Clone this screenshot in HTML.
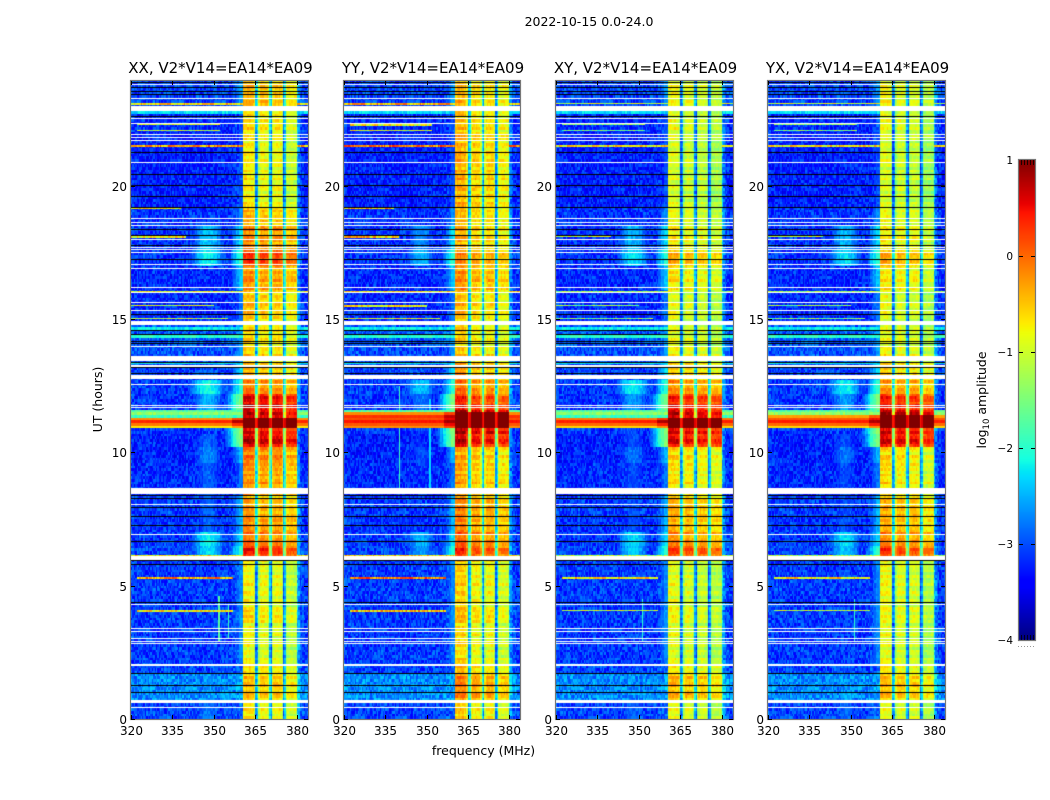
<!DOCTYPE html>
<html lang="en">
<head>
<meta charset="utf-8">
<title>2022-10-15 spectrogram</title>
<style>
html,body{margin:0;padding:0;background:#fff;}
#stage{position:relative;width:1050px;height:800px;overflow:hidden;background:#fff;font-family:"DejaVu Sans",sans-serif;}
canvas{position:absolute;display:block;}
svg{position:absolute;left:0;top:0;}
text{font-family:"DejaVu Sans",sans-serif;fill:#000;}
</style>
</head>
<body>
<div id="stage">
  <canvas id="heat-0" width="177" height="638" style="left:131px;top:81px"></canvas>
  <canvas id="heat-1" width="176" height="638" style="left:344px;top:81px"></canvas>
  <canvas id="heat-2" width="177" height="638" style="left:556px;top:81px"></canvas>
  <canvas id="heat-3" width="177" height="638" style="left:768px;top:81px"></canvas>
  <canvas id="cbar" width="16" height="480" style="left:1019px;top:160px"></canvas>
  <svg id="overlay" width="1050" height="800" viewBox="0 0 1050 800"></svg>
</div>
<script>
// ---------- categories and tick labels ----------
const panelTitles = ["XX, V2*V14=EA14*EA09", "YY, V2*V14=EA14*EA09", "XY, V2*V14=EA14*EA09", "YX, V2*V14=EA14*EA09"];
const xTicks = [320, 335, 350, 365, 380];
const yTicks = [0, 5, 10, 15, 20];
const colorTicks = [1, 0, -1, -2, -3, -4];

// ---------- time segments (hours UT) and log10 amplitude levels ----------
const segStart =   [0,0.7,1.7,2.1,3.6,4.1,5.9,6.1,6.5,7.0,7.6,8.4,9.6,10.2,10.7,11.3,11.6,12.2,12.75,13.4,14.0,14.9,16.1,17.0,17.6,18.5,19.2,22.0,23.0];
const offLevel =   [-3.05,-2.7,-3.05,-3.1,-3.1,-3.1,-3.1,-3.05,-3.1,-3.15,-3.1,-3.2,-3.25,-3.25,-3.15,-2.6,-3.15,-3.1,-3.05,-3.0,-2.95,-3.2,-3.2,-3.15,-3.15,-3.15,-3.25,-3.2,-3.05];
const blobLevel =  [-2.8,-2.7,-9,-9,-9,-9,-9,-2.3,-2.2,-2.9,-2.9,-2.9,-2.7,-2.9,-9,-9,-2.5,-2.1,-9,-9,-9,-9,-9,-2.2,-2.4,-9,-9,-9,-9];
const shoulderLevel = [-3,-2.7,-3,-2.7,-2.6,-2.7,-2.7,-2.0,-2.3,-2.5,-2.5,-2.8,-2.5,-1.5,-1.4,-1.5,-1.5,-2.0,-2.3,-2.6,-2.6,-2.8,-2.4,-2.0,-2.3,-2.7,-3,-3,-2.6];
const bandXX = [-0.85,-0.55,-0.75,-0.95,-0.7,-0.9,-0.75,0.3,-0.2,-0.25,-0.4,-0.35,-0.2,0.6,0.35,0.6,0.5,-0.3,-0.55,-0.65,-0.7,-0.6,-0.35,0.1,-0.3,-0.55,-0.85,-0.75,-0.55];
const bandYY = [-0.8,-0.35,-0.7,-0.85,-0.65,-0.8,-0.6,0.1,-0.2,-0.35,-0.35,-0.55,-0.55,0.45,0.5,0.75,0.2,-0.3,-0.5,-0.7,-0.75,-0.7,-0.45,-0.4,-0.6,-0.65,-0.6,-0.7,-0.7];
const bandXY = [-1.0,-0.5,-0.85,-1.0,-0.9,-1.0,-0.85,0.15,-0.3,-0.45,-0.45,-0.75,-0.7,0.45,0.4,0.6,0.3,-0.35,-0.65,-0.85,-0.95,-1.0,-0.8,-0.5,-0.85,-0.95,-1.05,-1.0,-0.95];
const bandYX = [-1.0,-0.55,-0.85,-1.0,-0.9,-0.95,-0.85,0.15,-0.3,-0.45,-0.45,-0.75,-0.7,0.5,0.4,0.7,0.3,-0.4,-0.65,-0.85,-0.95,-1.0,-0.8,-0.5,-0.85,-0.95,-1.05,-1.0,-0.95];
const subbandXX = [0.1,0,-0.02,-0.22];
const subbandYY = [0.2,0,-0.05,-0.2];
const subbandXY = [0.08,0,-0.1,-0.2];
const subbandYX = [0.08,0,-0.05,-0.25];
const blobPanelShift = [0,-0.3,-0.1,-0.1];
const bandRowRipple = [0.12,-0.1,0.05,0.18,-0.16,0,0.1,-0.2,0.08,0.15,-0.06,-0.14,0.2,0.02,-0.1,0.12,-0.18,0.06,-0.04];

// ---------- frequency structure (0.5 MHz channels) ----------
const offRipple = [0.1,0.05,0,0,0.05,0,0,0,0,0.05,0,0,0,0,0,0,0.05,0,0,0,0,0,0,0,0,0,0,0.05,0,0,0,0,0,0,0,0,0,0,0,0,0,0,0,0,0.05,0,0,0,0,0,0,0,0,0,0,0,0,0,0,0.05,0,0,0,0,0,0,0,0,0,0,0,0,0,0.05,0.05,0.1,0.1,0.1,0.1,0.15,0.15];
const bandShape = [0,0.05,0.05,0.05,0.05,0.05,0,0,-0.3,-1.9,-1.6,-0.3,0,0.05,0.05,0.05,0,0,-0.3,-1.5,-1.9,-0.3,0,0.05,0.05,0.05,0.05,0,-0.3,-1.9,-1.4,-0.15,0,0,0.05,0.05,0,0,-0.05];
const tailShape = [0.7,0.4,0.2,0.1,0.1,0,0,0];
const blobWeight = [0,0.1,0.3,0.5,0.7,0.85,1,1,1,0.95,0.85,0.65,0.45,0.25,0.1];   // 340..354 MHz
const shoulderWeight = [0,0,0.1,0.3,0.5,0.7,0.85,1,1];                            // 352..360 MHz
const speckle = [-0.28,0.12,-0.05,0.3,-0.18,0.02,0.22,-0.33,0.08,-0.12,0.27,-0.02,-0.24,0.16,0.05,-0.36,0.2,-0.08,0.33,-0.15,0.1,-0.27,0.04,0.24,-0.1,-0.2,0.14,0.35,-0.06,-0.3,0.18];

// ---------- the bright interference band near 11 h (rows are tenths of an hour) ----------
const hotRowTenths = [108,109,110,111,112,113,114,115];
const hotRowsXX = [null,-0.7,-0.1,0.35,-0.2,null,null,null];
const hotRowsYY = [null,-0.2,0.1,0.45,0.15,0.3,-0.2,null];
const hotRowsXY = [null,-0.6,0.0,0.4,-0.1,null,null,null];
const hotRowsYX = [null,-0.6,0.0,0.4,0.1,-0.3,null,null];

// ---------- cyan/green off-band rows ----------
const accentHours =  [22.7,14.65,14.3,13.3,11.35,11.45,11.55];
const accentLevels = [-2.3,-2.2,-2.0,-2.2,-1.9,-1.4,-1.7];

// ---------- thin RFI lines (off-band only) ----------
const lineHours =   [23.1,22.3,22.07,21.53,19.2,18.1,16.06,15.53,15.02,7.96,6.15,5.34,4.09];
const lineLevels =  [-0.6,-1.0,-1.1,-0.3,-0.7,-0.7,-0.9,-1.0,-1.1,-1.2,-0.8,-0.3,-0.7];
const lineStartFreq = [320,322,322,320,320,320,320,320,320,320,320,322,322];
const lineEndFreq =   [384,352,352,384,338,340,384,350,355,345,384,357,357];
const linePanelShift = [0,0.2,-0.4,-0.4];

// ---------- vertical spikes ----------
const spikePanel = [0,0,1,1,2,3];
const spikeFreq =  [351.5,355,340,351,351,351];
const spikeFrom =  [2.9,3.0,8.6,8.6,2.9,2.9];
const spikeTo =    [4.6,4.3,12.5,12.0,4.5,4.5];
const spikeLevel = [-1.7,-1.9,-1.9,-2.3,-2.0,-2.0];

// ---------- flagged time ranges ----------
const whiteFrom = [22.78,14.77,13.42,13.2,12.75,8.44,5.98,1.98,0.6];
const whiteTo =   [23.0,14.93,13.61,13.27,12.9,8.66,6.11,2.08,0.71];
const whiteLines = [23.8,23.44,23.3,22.55,22.35,21.95,21.83,21.7,20.87,18.77,18.65,18.52,18.0,17.71,17.62,17.5,17.06,16.91,16.19,16.02,15.65,15.34,14.0,12.55,11.77,11.68,8.08,6.95,4.32,3.42,3.3,3.04,2.93,2.86,0.44];
const blackLines = [23.9,23.7,23.55,23.42,22.6,21.27,20.45,20.03,19.62,19.2,18.38,18.13,17.78,17.26,15.17,14.57,14.45,14.19,14.09,13.4,13.19,12.97,8.4,8.3,7.96,7.62,7.27,6.68,5.96,5.83,4.4,1.74,1.26,1.01];

const bandByPanel = [bandXX, bandYY, bandXY, bandYX];
const subbandByPanel = [subbandXX, subbandYY, subbandXY, subbandYX];
const hotByPanel = [hotRowsXX, hotRowsYY, hotRowsXY, hotRowsYX];

// ---------- axis functions ----------
const panelLeft = [131, 344, 556, 768];
const panelWidth = [177, 176, 177, 177];
const plotTop = 81, plotBottom = 719;
const freqMin = 320, freqMax = 384;
function xScale(p, f) { return panelLeft[p] + (f - freqMin) / (freqMax - freqMin) * panelWidth[p]; }
function yScale(h) { return plotBottom - h * 26.67; }
function cScale(v) { return 640 - (v + 4) * 96; }

function lerpStops(t, xs, ys) {
  for (let i = 1; i < xs.length; i++) {
    if (t <= xs[i]) return ys[i - 1] + (ys[i] - ys[i - 1]) * (t - xs[i - 1]) / (xs[i] - xs[i - 1]);
  }
  return ys[ys.length - 1];
}
function jet(v) {
  const t = Math.max(0, Math.min(1, (v + 4) / 5));
  const r = lerpStops(t, [0, .35, .66, .89, 1], [0, 0, 1, 1, .5]);
  const g = lerpStops(t, [0, .125, .375, .64, .91, 1], [0, 0, 1, 1, 0, 0]);
  const b = lerpStops(t, [0, .11, .34, .65, 1], [.5, 1, 1, 0, 0]);
  return "rgb(" + Math.round(r * 255) + "," + Math.round(g * 255) + "," + Math.round(b * 255) + ")";
}
function speckleAt(p, r, c) {
  return speckle[(c * 7 + r * r * 3 + p * 5 + (r * c) % 11) % speckle.length];
}

function cellValue(p, r, c) {
  const h = (r + 0.5) / 10, f = freqMin + c * 0.5;
  let s = 0;
  while (s + 1 < segStart.length && segStart[s + 1] <= h) s++;
  const sp = speckleAt(p, r, c);
  const hi = hotRowTenths.indexOf(r);
  const hot = hi >= 0 ? hotByPanel[p][hi] : null;

  if (c >= 81 && c < 120) {
    const sb = f < 365 ? 0 : f < 370 ? 1 : f < 375 ? 2 : 3;
    const shape = bandShape[c - 81];
    if (hot !== null) return 1.1 + shape * 0.35;
    return bandByPanel[p][s] + subbandByPanel[p][sb] + shape + sp * 0.5 + bandRowRipple[r % bandRowRipple.length];
  }

  let v = offLevel[s] + sp;
  if (c < 81) v += offRipple[c];
  else v += tailShape[c - 120];

  if (f >= 340 && f < 355) {
    const w = blobWeight[Math.floor(f) - 340];
    if (w > 0) v = Math.max(v, blobLevel[s] + blobPanelShift[p] - (1 - w) * 1.0 + sp * 0.5);
  }
  if (f >= 352 && f < 361) {
    const w = shoulderWeight[Math.floor(f) - 352];
    if (w > 0) v = Math.max(v, shoulderLevel[s] - (1 - w) * 1.6 + sp * 0.4);
  }
  for (let i = 0; i < spikeFreq.length; i++) {
    if (spikePanel[i] === p && Math.abs(f - spikeFreq[i]) < 0.25 && h >= spikeFrom[i] && h <= spikeTo[i]) v = spikeLevel[i];
  }
  for (let i = 0; i < accentHours.length; i++) {
    if (Math.floor(accentHours[i] * 10) === r) v = accentLevels[i] + sp * 0.6;
  }
  if (hot !== null) v = hot + sp * 0.1 + (c > 72 && c < 81 ? 0.4 : 0);
  return v;
}

function drawHeatmap(p) {
  const cv = document.getElementById("heat-" + p);
  const ctx = cv.getContext("2d");
  const L = panelLeft[p];
  ctx.fillStyle = "#fff";
  ctx.fillRect(0, 0, cv.width, cv.height);
  for (let r = 0; r < 240; r++) {
    const y1 = Math.round(yScale((r + 1) / 10)) - plotTop;
    const y2 = Math.round(yScale(r / 10)) - plotTop;
    for (let c = 0; c < 128; c++) {
      const x1 = Math.round(xScale(p, freqMin + c * 0.5)) - L;
      const x2 = Math.round(xScale(p, freqMin + (c + 1) * 0.5)) - L;
      ctx.fillStyle = jet(cellValue(p, r, c));
      ctx.fillRect(x1, y1, x2 - x1, y2 - y1);
    }
  }
  lineHours.forEach(function (h, i) {
    const y = Math.round(yScale(h)) - plotTop;
    const tall = lineLevels[i] + linePanelShift[p] > -0.9 ? 2 : 1;
    for (let c = 0; c < 128; c++) {
      const f = freqMin + c * 0.5;
      if (f < lineStartFreq[i] || f >= lineEndFreq[i]) continue;
      if (c >= 81 && c < 120) continue;
      const x1 = Math.round(xScale(p, f)) - L;
      const x2 = Math.round(xScale(p, f + 0.5)) - L;
      ctx.fillStyle = jet(lineLevels[i] + linePanelShift[p] + speckleAt(p, i * 17, c) * 1.5);
      ctx.fillRect(x1, y, x2 - x1, tall);
    }
  });
  ctx.fillStyle = "#fff";
  whiteFrom.forEach(function (from, i) {
    const y1 = Math.round(yScale(whiteTo[i])) - plotTop;
    const y2 = Math.round(yScale(from)) - plotTop;
    ctx.fillRect(0, y1, cv.width, y2 - y1);
  });
  whiteLines.forEach(function (h) {
    ctx.fillRect(0, Math.round(yScale(h)) - plotTop, cv.width, 1);
  });
  ctx.fillStyle = "#000";
  blackLines.forEach(function (h) {
    ctx.fillRect(0, Math.round(yScale(h)) - plotTop, cv.width, 1);
  });
}

function drawColorbar() {
  const ctx = document.getElementById("cbar").getContext("2d");
  for (let y = 0; y < 480; y++) {
    ctx.fillStyle = jet(1 - (y + 0.5) / 96);
    ctx.fillRect(0, y, 16, 1);
  }
}

const NS = "http://www.w3.org/2000/svg";
const svg = document.getElementById("overlay");
function addLine(x1, y1, x2, y2, stroke, w) {
  const el = document.createElementNS(NS, "line");
  el.setAttribute("x1", x1);
  el.setAttribute("y1", y1);
  el.setAttribute("x2", x2);
  el.setAttribute("y2", y2);
  el.setAttribute("stroke", stroke);
  el.setAttribute("stroke-width", w);
  svg.appendChild(el);
  return el;
}
function addText(x, y, str, size, anchor) {
  const el = document.createElementNS(NS, "text");
  el.setAttribute("x", x);
  el.setAttribute("y", y);
  el.setAttribute("font-size", size);
  el.setAttribute("text-anchor", anchor);
  el.textContent = str;
  svg.appendChild(el);
  return el;
}
function addRect(x, y, w, h, stroke, sw) {
  const el = document.createElementNS(NS, "rect");
  el.setAttribute("x", x);
  el.setAttribute("y", y);
  el.setAttribute("width", w);
  el.setAttribute("height", h);
  el.setAttribute("fill", "none");
  el.setAttribute("stroke", stroke);
  el.setAttribute("stroke-width", sw);
  svg.appendChild(el);
  return el;
}

function drawAxes(p) {
  const L = panelLeft[p], W = panelWidth[p];
  const frame = addRect(L - 0.5, plotTop - 0.5, W + 1, plotBottom - plotTop + 1, "#777", 1.2);
  
  

  const title = addText(L + W / 2 + 1, 73, panelTitles[p], 15, "middle");
  
  

  xTicks.forEach(function (f) {
    const x = Math.round(xScale(p, f)) + 0.5;
    const t1 = addLine(x, plotBottom, x, plotBottom - 4, "#000", 1);
    
    
    const t2 = addLine(x, plotTop, x, plotTop + 4, "#000", 1);
    
    
    const lab = addText(x, 735, String(f), 12, "middle");
    
    
  });
  yTicks.forEach(function (h) {
    const y = Math.round(yScale(h)) + 0.5;
    const t1 = addLine(L, y, L + 4, y, "#000", 1);
    
    
    const t2 = addLine(L + W, y, L + W - 4, y, "#000", 1);
    
    
    const lab = addText(L - 4, y + 4.5, String(h), 12, "end");
    
    
  });
}

function drawColorbarAxis() {
  const frame = addRect(1018.5, 159.5, 17, 481, "#777", 1.2);
  
  
  colorTicks.forEach(function (v) {
    const y = Math.round(cScale(v)) + 0.5;
    if (v < 1 && v > -4) {
      const t1 = addLine(1019, y, 1023, y, "#000", 1);
      
      
      const t2 = addLine(1035, y, 1031, y, "#000", 1);
      
      
    }
    const lab = addText(1013, y + 3.5, String(v).replace("-", "\u2212"), 10.5, "end");
    
    
  });
  [1021, 1024, 1027, 1030, 1033].forEach(function (x) {
    const m1 = addLine(x + 0.5, 160, x + 0.5, 165, "#000", 0.8);
    
    
    const m2 = addLine(x + 0.5, 640, x + 0.5, 635, "#000", 0.8);
    
    
  });
  [1018, 1021, 1024, 1027, 1030, 1033].forEach(function (x) {
    const d = addLine(x, 646.5, x + 1, 646.5, "#999", 1);
    
    
  });
}

function drawLabels() {
  const sup = addText(589, 26, "2022-10-15 0.0-24.0", 12.5, "middle");
  
  
  const xl = addText(483.5, 755, "frequency (MHz)", 12.5, "middle");
  
  
  const yl = addText(0, 0, "UT (hours)", 12.5, "middle");
  yl.setAttribute("transform", "translate(102,399.5) rotate(-90)");
  
  
  const cl = addText(0, 0, "", 12.5, "middle");
  cl.setAttribute("transform", "translate(986,400) rotate(-90)");
  
  
  const a = document.createElementNS(NS, "tspan");
  a.textContent = "log";
  cl.appendChild(a);
  const b = document.createElementNS(NS, "tspan");
  b.setAttribute("font-size", "8.5");
  b.setAttribute("dy", "3");
  b.textContent = "10";
  cl.appendChild(b);
  const d = document.createElementNS(NS, "tspan");
  d.setAttribute("dy", "-3");
  d.textContent = " amplitude";
  cl.appendChild(d);
}

panelTitles.forEach(function (_, p) {
  drawHeatmap(p);
  drawAxes(p);
});
drawColorbar();
drawColorbarAxis();
drawLabels();
</script>
</body>
</html>
